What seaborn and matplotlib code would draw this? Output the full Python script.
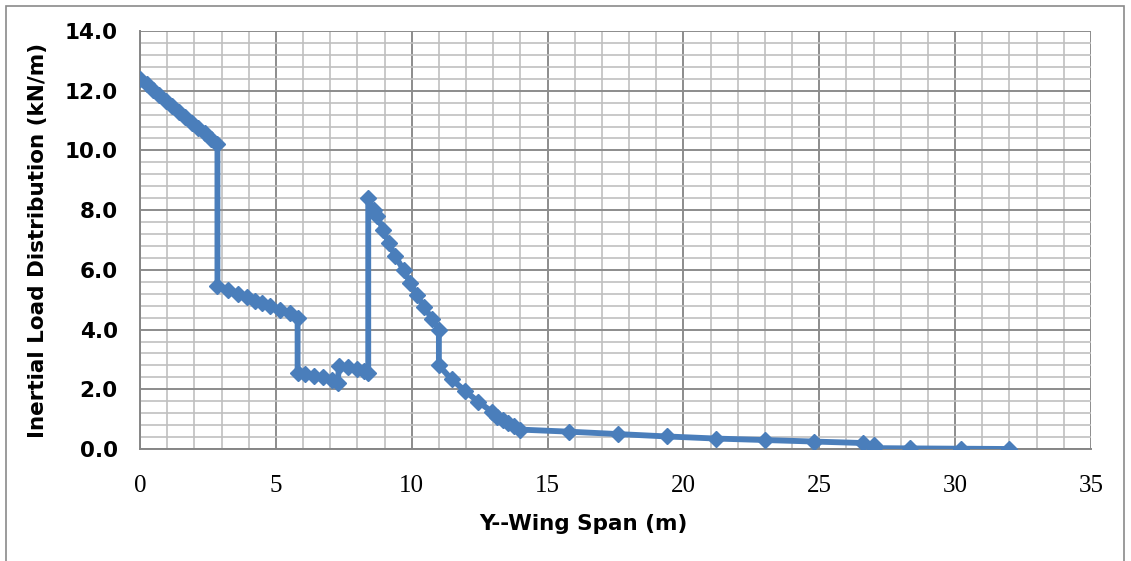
import numpy as np
import pandas as pd
import matplotlib
matplotlib.use("Agg")
import matplotlib.pyplot as plt
from matplotlib.patches import Rectangle
from matplotlib.ticker import MultipleLocator, FormatStrFormatter
import seaborn as sns

# Spanwise stations (m) and inertial load (kN/m), root to tip
span_m = [
    0.00, 0.24, 0.48, 0.71, 0.95, 1.19, 1.43, 1.66, 1.90, 2.14, 2.38, 2.61, 2.85,
    2.85, 3.25, 3.61, 3.93, 4.23, 4.48, 4.78, 5.15, 5.52, 5.80,
    5.80, 6.07, 6.40, 6.75, 7.05, 7.27, 7.33, 7.67, 7.97, 8.25, 8.40,
    8.40, 8.60, 8.72, 8.95, 9.15, 9.40, 9.70, 9.95, 10.20, 10.45, 10.75, 11.00,
    11.00, 11.47, 11.96, 12.45, 12.95, 13.15, 13.35, 13.55, 13.75, 14.00,
    15.80, 17.60, 19.40, 21.20, 23.00, 24.80, 26.60, 27.00, 27.00, 28.35, 30.20, 32.00,
]
load_kNm = [
    12.40, 12.22, 12.03, 11.85, 11.67, 11.48, 11.30, 11.12, 10.93, 10.75, 10.57, 10.38, 10.20,
    5.47, 5.33, 5.19, 5.08, 4.97, 4.90, 4.79, 4.65, 4.55, 4.40,
    2.55, 2.52, 2.45, 2.40, 2.32, 2.22, 2.78, 2.73, 2.68, 2.60, 2.55,
    8.40, 8.00, 7.80, 7.35, 6.90, 6.45, 6.00, 5.55, 5.15, 4.75, 4.37, 4.00,
    2.80, 2.33, 1.95, 1.58, 1.25, 1.08, 0.97, 0.87, 0.77, 0.65,
    0.58, 0.50, 0.42, 0.35, 0.30, 0.25, 0.20, 0.15, 0.03, 0.02, 0.01, 0.00,
]

x_ticks = [0, 5, 10, 15, 20, 25, 30, 35]
y_ticks = [0.0, 2.0, 4.0, 6.0, 8.0, 10.0, 12.0, 14.0]

df = pd.DataFrame({"span": span_m, "load": load_kNm})

sns.set_theme(style="white")
plt.rcParams["font.family"] = ["DejaVu Sans"]

W, H = 1131, 561
fig = plt.figure(figsize=(W / 100, H / 100), dpi=100)
ax = fig.add_axes([140 / W, (H - 449) / H, 951 / W, 418 / H])

blue = "#4a7ebb"
sns.lineplot(
    data=df, x="span", y="load", sort=False, estimator=None,
    color=blue, linewidth=4.2, marker="D", markersize=8.5,
    markeredgecolor=blue, markeredgewidth=1.0, ax=ax, zorder=5,
)

ax.set_xlim(0, 35)
ax.set_ylim(0, 14)
ax.set_xticks(x_ticks)
ax.set_yticks(y_ticks)
ax.xaxis.set_minor_locator(MultipleLocator(1))
ax.yaxis.set_minor_locator(MultipleLocator(0.4))
ax.yaxis.set_major_formatter(FormatStrFormatter("%.1f"))

ax.grid(True, which="minor", color="#c0c0c0", linewidth=1.2, zorder=0)
ax.grid(True, which="major", color="#8c8c8c", linewidth=1.4, zorder=1)
ax.set_axisbelow(True)

for side in ("top", "right"):
    ax.spines[side].set_visible(False)
for side in ("left", "bottom"):
    ax.spines[side].set_color("#868686")
    ax.spines[side].set_linewidth(1.4)

ax.tick_params(axis="x", which="major", direction="out", length=6, width=1.4,
               color="#868686", pad=13)
ax.tick_params(axis="y", which="major", direction="out", length=7, width=1.4,
               color="#868686", pad=9)
ax.tick_params(which="minor", length=0)

for lab in ax.get_xticklabels():
    lab.set_fontfamily("Liberation Serif")
    lab.set_fontsize(18)
    lab.set_color("black")
for lab in ax.get_yticklabels():
    lab.set_fontfamily("DejaVu Sans")
    lab.set_fontweight("bold")
    lab.set_fontsize(15.5)
    lab.set_color("black")

ax.set_xlabel("Y--Wing Span (m)", fontsize=15.5, fontweight="bold",
              family="DejaVu Sans", color="black")
ax.xaxis.set_label_coords((583 - 140) / 951, -0.155)
ax.set_ylabel("Inertial Load Distribution (kN/m)", fontsize=15.5, fontweight="bold",
              labelpad=12, family="DejaVu Sans", color="black")

# chart-area border
fig.patches.append(Rectangle((6 / W, -0.05), (1124 - 6) / W, (H - 6) / H + 0.05,
                             transform=fig.transFigure, fill=False,
                             edgecolor="#8a8a8a", linewidth=1.2))

fig.savefig("out.png", dpi=100)
